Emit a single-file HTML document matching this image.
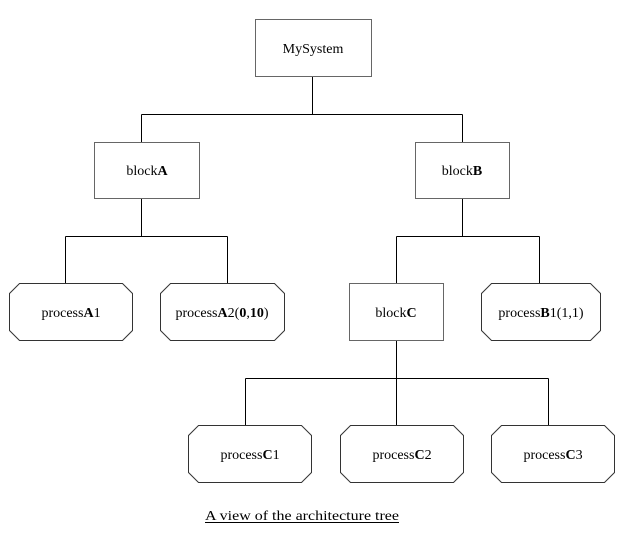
<!DOCTYPE html>
<html><head><style>
body{margin:0;background:#fff;width:623px;height:531px;overflow:hidden}
svg text{font-family:"Liberation Serif","Times New Roman","DejaVu Serif",serif;font-size:14px;fill:#000}
</style></head><body>
<svg width="623" height="531" xmlns="http://www.w3.org/2000/svg">
<g stroke="#000" stroke-width="1" fill="none" shape-rendering="crispEdges">
<path d="M312.5 76V114.5M141.5 114.5H462.5M141.5 114.5V142M462.5 114.5V142"/>
<path d="M141.5 198V236.5M65.5 236.5H227.5M65.5 236.5V283M227.5 236.5V283"/>
<path d="M462.5 198V236.5M396.5 236.5H539.5M396.5 236.5V283M539.5 236.5V283"/>
<path d="M396.5 340V378.5M245.5 378.5H548.5M245.5 378.5V425M396.5 378.5V425M548.5 378.5V425"/>
</g>
<g stroke="#666" stroke-width="1" fill="#fff">
<rect x="255.5" y="19.5" width="116" height="57"/>
<rect x="94.5" y="142.5" width="105" height="56"/>
<rect x="415.5" y="142.5" width="94" height="56"/>
<rect x="349.5" y="283.5" width="94" height="57"/>
</g>
<g stroke="#333" stroke-width="1" fill="#fff">
<polygon points="19.5,283.5 122.5,283.5 132.5,293.5 132.5,330.5 122.5,340.5 19.5,340.5 9.5,330.5 9.5,293.5"/>
<polygon points="170.5,283.5 274.5,283.5 284.5,293.5 284.5,330.5 274.5,340.5 170.5,340.5 160.5,330.5 160.5,293.5"/>
<polygon points="491.5,283.5 590.5,283.5 600.5,293.5 600.5,330.5 590.5,340.5 491.5,340.5 481.5,330.5 481.5,293.5"/>
<polygon points="198.5,425.5 301.5,425.5 311.5,435.5 311.5,472.5 301.5,482.5 198.5,482.5 188.5,472.5 188.5,435.5"/>
<polygon points="350.5,425.5 453.5,425.5 463.5,435.5 463.5,472.5 453.5,482.5 350.5,482.5 340.5,472.5 340.5,435.5"/>
<polygon points="501.5,425.5 604.5,425.5 614.5,435.5 614.5,472.5 604.5,482.5 501.5,482.5 491.5,472.5 491.5,435.5"/>
</g>
<g text-anchor="middle" font-family="Liberation Serif, serif">
<text x="313" y="53">MySystem</text>
<text x="147" y="175">block<tspan font-weight="bold">A</tspan></text>
<text x="462" y="175">block<tspan font-weight="bold">B</tspan></text>
<text x="396" y="317">block<tspan font-weight="bold">C</tspan></text>
<text x="71" y="317">process<tspan font-weight="bold">A</tspan>1</text>
<text x="222" y="317">process<tspan font-weight="bold">A</tspan>2(<tspan font-weight="bold">0</tspan>,<tspan font-weight="bold">10</tspan>)</text>
<text x="541" y="317">process<tspan font-weight="bold">B</tspan>1(1,1)</text>
<text x="250" y="459">process<tspan font-weight="bold">C</tspan>1</text>
<text x="402" y="459">process<tspan font-weight="bold">C</tspan>2</text>
<text x="553" y="459">process<tspan font-weight="bold">C</tspan>3</text>
</g>
<text x="205" y="520" font-family="Liberation Serif, serif" textLength="194" lengthAdjust="spacingAndGlyphs">A view of the architecture tree</text>
<line x1="205" y1="522.5" x2="399" y2="522.5" stroke="#000" stroke-width="1"/>
</svg>
</body></html>
